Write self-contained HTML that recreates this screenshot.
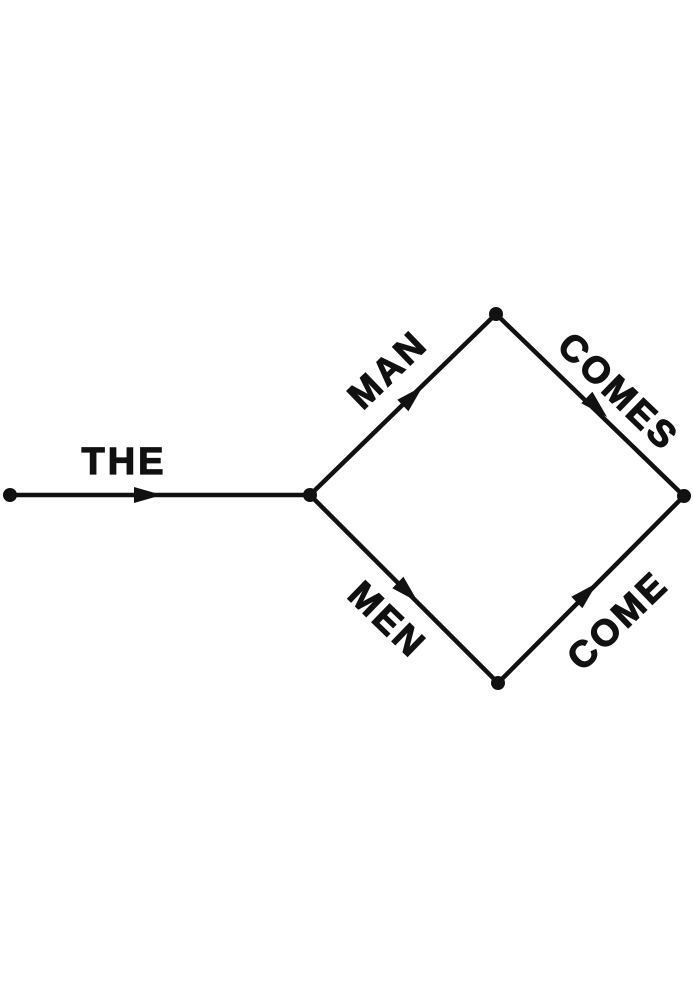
<!DOCTYPE html>
<html><head><style>html,body{margin:0;padding:0;background:#fff;}</style></head>
<body>
<svg width="693" height="1000" viewBox="0 0 693 1000" xmlns="http://www.w3.org/2000/svg">
<g stroke="#111" stroke-width="4.5" fill="none" stroke-linecap="round">
<line x1="10" y1="495" x2="310" y2="495"/>
<polyline points="310,495 496,314 684,496 498,683 310,495"/>
</g>
<g fill="#111">
<circle cx="10" cy="495" r="7"/>
<circle cx="310" cy="495" r="7"/>
<circle cx="496" cy="314" r="7"/>
<circle cx="684" cy="496" r="7"/>
<circle cx="498" cy="683" r="7"/>
<polygon points="162,495 134,487 134,503"/>
<g transform="translate(423,386) rotate(-44)"><polygon points="0,0 -28,-8 -28,8"/></g>
<g transform="translate(607,417) rotate(44)"><polygon points="0,0 -28,-8 -28,8"/></g>
<g transform="translate(418,602) rotate(44)"><polygon points="0,0 -28,-8 -28,8"/></g>
<g transform="translate(597,583) rotate(-44)"><polygon points="0,0 -28,-8 -28,8"/></g>
</g>
<g font-family="Liberation Sans, sans-serif" font-weight="bold" fill="#111" stroke="#111" stroke-width="1.2" text-anchor="middle" font-size="37" letter-spacing="3">
<text x="124" y="474" font-size="38">THE</text>
<text transform="translate(388,370) rotate(-44)" x="0" y="12">MAN</text>
<text transform="translate(618,392) rotate(44)" x="0" y="12">COMES</text>
<text transform="translate(387,620) rotate(44)" x="0" y="12">MEN</text>
<text transform="translate(618,621) rotate(-44)" x="0" y="12">COME</text>
</g>
</svg>
</body></html>
